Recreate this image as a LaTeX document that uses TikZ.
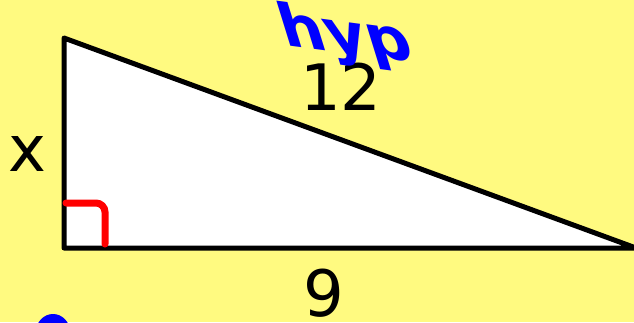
\documentclass[tikz,border=0pt]{standalone}
\usepackage{fontspec}
\setmainfont{DejaVu Sans}
\definecolor{bgyellow}{RGB}{255,250,128}
\definecolor{hypblue}{RGB}{0,0,255}
\begin{document}
\begin{tikzpicture}[x=1pt,y=-1pt,
  edge/.style={line width=5pt,line join=round},
  lbl/.style={inner sep=0pt,font=\fontsize{64}{64}\selectfont},
  rightmark/.style={draw=red,line width=7pt,line cap=round,rounded corners=9pt}]
\fill[bgyellow] (0,0) rectangle (634,322);
\useasboundingbox (0,0) rectangle (634,322);
\coordinate (A) at (64,38);
\coordinate (B) at (64,248);
\coordinate (C) at (636,248);
\filldraw[fill=white,draw=black,edge] (A) -- (B) -- (C) -- cycle;
\coordinate (m1) at (66,203);
\coordinate (m2) at (105,203);
\coordinate (m3) at (105,244);
\draw[rightmark] (m1) -- (m2) -- (m3);
\node[lbl] (lx) at (27,154) {x};
\node[lbl] (l12) at (341,87) {12};
\node[lbl] (l9) at (324,293) {9};
\node[inner sep=0pt,text=hypblue,font=\bfseries\fontsize{60}{60}\selectfont,xslant=-0.45,rotate=-8] (hyp) at (346,38) {hyp};
\fill[hypblue] (53,332) ellipse (17 and 18);
\end{tikzpicture}
\end{document}
